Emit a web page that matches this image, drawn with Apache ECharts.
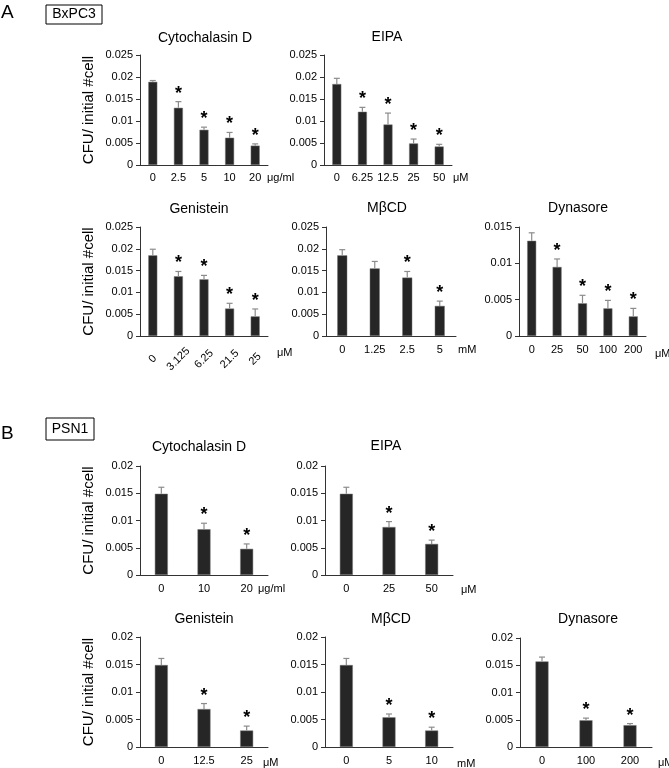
<!DOCTYPE html>
<html>
<head>
<meta charset="utf-8">
<title>CFU / initial #cell</title>
<script src="https://cdn.jsdelivr.net/npm/echarts@6/dist/echarts.min.js"></script>
<style>
  html, body { margin: 0; padding: 0; background: #fff; }
  #main { width: 669px; height: 768px; }
</style>
</head>
<body>
<div id="main"></div>
<script>
// ---- A: BxPC3 ----
var aCytoCats = ['0', '2.5', '5', '10', '20'];
var aCytoMean = [0.0189, 0.0130, 0.0080, 0.0062, 0.0044];
var aCytoErr  = [0.0003, 0.0014, 0.0006, 0.0012, 0.0004];
var aCytoSig  = [0, 1, 1, 1, 1];

var aEipaCats = ['0', '6.25', '12.5', '25', '50'];
var aEipaMean = [0.0184, 0.0121, 0.0092, 0.0049, 0.0042];
var aEipaErr  = [0.0013, 0.0010, 0.0026, 0.0010, 0.0005];
var aEipaSig  = [0, 1, 1, 1, 1];

var aGenCats = ['0', '3.125', '6.25', '21.5', '25'];
var aGenMean = [0.0185, 0.0137, 0.0130, 0.0063, 0.0045];
var aGenErr  = [0.0014, 0.0011, 0.0009, 0.0012, 0.0017];
var aGenSig  = [0, 1, 1, 1, 1];

var aMbcdCats = ['0', '1.25', '2.5', '5'];
var aMbcdMean = [0.0185, 0.0155, 0.0134, 0.0069];
var aMbcdErr  = [0.0013, 0.0016, 0.0014, 0.0011];
var aMbcdSig  = [0, 0, 1, 1];

var aDynCats = ['0', '25', '50', '100', '200'];
var aDynMean = [0.0131, 0.0095, 0.0045, 0.0038, 0.0027];
var aDynErr  = [0.0011, 0.0011, 0.0011, 0.0011, 0.0011];
var aDynSig  = [0, 1, 1, 1, 1];

// ---- B: PSN1 ----
var bCytoCats = ['0', '10', '20'];
var bCytoMean = [0.0149, 0.0084, 0.0048];
var bCytoErr  = [0.0012, 0.0011, 0.0009];
var bCytoSig  = [0, 1, 1];

var bEipaCats = ['0', '25', '50'];
var bEipaMean = [0.0149, 0.0088, 0.0057];
var bEipaErr  = [0.0012, 0.0010, 0.0007];
var bEipaSig  = [0, 1, 1];

var bGenCats = ['0', '12.5', '25'];
var bGenMean = [0.0149, 0.0069, 0.0030];
var bGenErr  = [0.0012, 0.0010, 0.0008];
var bGenSig  = [0, 1, 1];

var bMbcdCats = ['0', '5', '10'];
var bMbcdMean = [0.0149, 0.0054, 0.0030];
var bMbcdErr  = [0.0012, 0.0006, 0.0006];
var bMbcdSig  = [0, 1, 1];

var bDynCats = ['0', '100', '200'];
var bDynMean = [0.0157, 0.0049, 0.0040];
var bDynErr  = [0.0008, 0.0004, 0.0003];
var bDynSig  = [0, 1, 1];

var yTitle = 'CFU/ initial #cell';
var FONT = '"Liberation Sans", Arial, sans-serif';

// 每个小图的位置和样式
var panels = [
  { title: 'Cytochalasin D', cats: aCytoCats, mean: aCytoMean, err: aCytoErr, sig: aCytoSig, unit: 'μg/ml',
    left: 140, top: 55, width: 128, height: 110, max: 0.025, barW: 9, unitGap: -1, unitDy: 13, lblMargin: 7, yName: true, tx: 205, ty: 31 },
  { title: 'EIPA', cats: aEipaCats, mean: aEipaMean, err: aEipaErr, sig: aEipaSig, unit: 'μM',
    left: 324, top: 55, width: 128, height: 110, max: 0.025, barW: 9, unitGap: 1, unitDy: 13, lblMargin: 7, tx: 387, ty: 30 },
  { title: 'Genistein', cats: aGenCats, mean: aGenMean, err: aGenErr, sig: aGenSig, unit: 'μM',
    left: 140, top: 227, width: 128, height: 109, max: 0.025, barW: 9, unitGap: 9, unitDy: 17, lblMargin: 23, rotate: true, yName: true, tx: 199, ty: 202 },
  { title: 'MβCD', cats: aMbcdCats, mean: aMbcdMean, err: aMbcdErr, sig: aMbcdSig, unit: 'mM',
    left: 326, top: 227, width: 130, height: 109, max: 0.025, barW: 10, unitGap: 2, unitDy: 14, lblMargin: 8, tx: 387, ty: 201 },
  { title: 'Dynasore', cats: aDynCats, mean: aDynMean, err: aDynErr, sig: aDynSig, unit: 'μM',
    left: 519, top: 227, width: 127, height: 109, max: 0.015, barW: 9, unitGap: 9, unitDy: 18, lblMargin: 8, tx: 578, ty: 201 },
  { title: 'Cytochalasin D', cats: bCytoCats, mean: bCytoMean, err: bCytoErr, sig: bCytoSig, unit: 'μg/ml',
    left: 140, top: 466, width: 128, height: 109, max: 0.02, barW: 13, unitGap: -10, unitDy: 14, lblMargin: 8, yName: true, tx: 199, ty: 440 },
  { title: 'EIPA', cats: bEipaCats, mean: bEipaMean, err: bEipaErr, sig: bEipaSig, unit: 'μM',
    left: 325, top: 466, width: 128, height: 109, max: 0.02, barW: 13, unitGap: 8, unitDy: 15, lblMargin: 8, tx: 386, ty: 439 },
  { title: 'Genistein', cats: bGenCats, mean: bGenMean, err: bGenErr, sig: bGenSig, unit: 'μM',
    left: 140, top: 637, width: 128, height: 110, max: 0.02, barW: 13, unitGap: -5, unitDy: 16, lblMargin: 8, yName: true, tx: 204, ty: 612 },
  { title: 'MβCD', cats: bMbcdCats, mean: bMbcdMean, err: bMbcdErr, sig: bMbcdSig, unit: 'mM',
    left: 325, top: 637, width: 128, height: 110, max: 0.02, barW: 13, unitGap: 4, unitDy: 17, lblMargin: 8, tx: 391, ty: 612 },
  { title: 'Dynasore', cats: bDynCats, mean: bDynMean, err: bDynErr, sig: bDynSig, unit: 'μM',
    left: 520, top: 638, width: 132, height: 109, max: 0.02, barW: 13, unitGap: 6, unitDy: 16, lblMargin: 8, tx: 588, ty: 612 }
];

// 误差线 + 显著性星号
function renderError(params, api) {
  var idx = api.value(0);
  var m = api.value(1);
  var e = api.value(2);
  var s = api.value(3);
  var base = api.coord([idx, m]);
  var top = api.coord([idx, m + e]);
  var stroke = { stroke: '#8c8c8c', lineWidth: 1.2 };
  var children = [
    { type: 'line', shape: { x1: base[0], y1: base[1], x2: top[0], y2: top[1] }, style: stroke },
    { type: 'line', shape: { x1: top[0] - 3, y1: top[1], x2: top[0] + 3, y2: top[1] }, style: stroke }
  ];
  if (s) {
    children.push({
      type: 'text', x: top[0], y: top[1] - 8,
      style: { text: '*', fill: '#000', font: 'bold 18px ' + FONT, align: 'center', verticalAlign: 'middle' }
    });
  }
  return { type: 'group', children: children };
}

var grids = [], xAxes = [], yAxes = [], series = [], titles = [];

var graphics = [
  { type: 'text', left: 1, top: 3, style: { text: 'A', font: '19px ' + FONT, fill: '#000' } },
  { type: 'rect', shape: { x: 46, y: 5, width: 56, height: 19 }, style: { fill: 'none', stroke: '#000', lineWidth: 1 } },
  { type: 'text', x: 74, y: 14.5, style: { text: 'BxPC3', font: '14px ' + FONT, fill: '#000', align: 'center', verticalAlign: 'middle' } },
  { type: 'text', left: 1, top: 424, style: { text: 'B', font: '19px ' + FONT, fill: '#000' } },
  { type: 'rect', shape: { x: 46, y: 418, width: 48, height: 22 }, style: { fill: 'none', stroke: '#000', lineWidth: 1 } },
  { type: 'text', x: 70, y: 429.5, style: { text: 'PSN1', font: '14px ' + FONT, fill: '#000', align: 'center', verticalAlign: 'middle' } }
];

panels.forEach(function (p, i) {
  grids.push({ left: p.left, top: p.top, width: p.width, height: p.height });
  titles.push({
    text: p.title, left: p.tx, top: p.ty, textAlign: 'center', padding: 0,
    textStyle: { fontFamily: FONT, fontSize: 14, fontWeight: 'normal', color: '#000' }
  });
  xAxes.push({
    type: 'category', gridIndex: i, data: p.cats,
    axisLine: { lineStyle: { color: '#333', width: 1 } },
    axisTick: { show: false },
    axisLabel: p.rotate ? {
      rotate: 45, align: 'center', verticalAlign: 'middle', margin: p.lblMargin, interval: 0,
      fontFamily: FONT, fontSize: 11, color: '#000'
    } : {
      margin: p.lblMargin, interval: 0, fontFamily: FONT, fontSize: 11, color: '#000'
    }
  });
  // 单位 (μM, mM ...) 放在x轴右端下方
  graphics.push({
    type: 'text', x: p.left + p.width + p.unitGap, y: p.top + p.height + p.unitDy,
    style: { text: p.unit, font: '11px ' + FONT, fill: '#000', align: 'left', verticalAlign: 'middle' }
  });
  yAxes.push({
    type: 'value', gridIndex: i, min: 0, max: p.max, interval: 0.005,
    axisLine: { show: true, lineStyle: { color: '#333', width: 1 } },
    axisTick: { show: true, inside: false, length: 4, lineStyle: { color: '#333' } },
    splitLine: { show: false },
    axisLabel: {
      margin: 7, fontFamily: FONT, fontSize: 11, color: '#000',
      formatter: function (v) { return String(+v.toFixed(3)); }
    },
    name: p.yName ? yTitle : '', nameLocation: 'middle', nameGap: 44,
    nameTextStyle: { fontFamily: FONT, fontSize: 15, color: '#000' }
  });
  series.push({
    type: 'bar', xAxisIndex: i, yAxisIndex: i, data: p.mean, barWidth: p.barW,
    itemStyle: { color: '#262626', borderColor: '#777', borderWidth: 0.5 },
    silent: true, animation: false
  });
  var ed = p.mean.map(function (m, k) { return [k, m, p.err[k], p.sig[k]]; });
  series.push({
    type: 'custom', xAxisIndex: i, yAxisIndex: i, data: ed,
    encode: { x: 0, y: 1 }, renderItem: renderError, z: 3, silent: true, animation: false
  });
});

var myChart = echarts.init(document.getElementById('main'));
var option = {
  backgroundColor: '#fff',
  animation: false,
  title: titles,
  grid: grids,
  xAxis: xAxes,
  yAxis: yAxes,
  series: series,
  graphic: graphics
};
myChart.setOption(option, true);
</script>
</body>
</html>
